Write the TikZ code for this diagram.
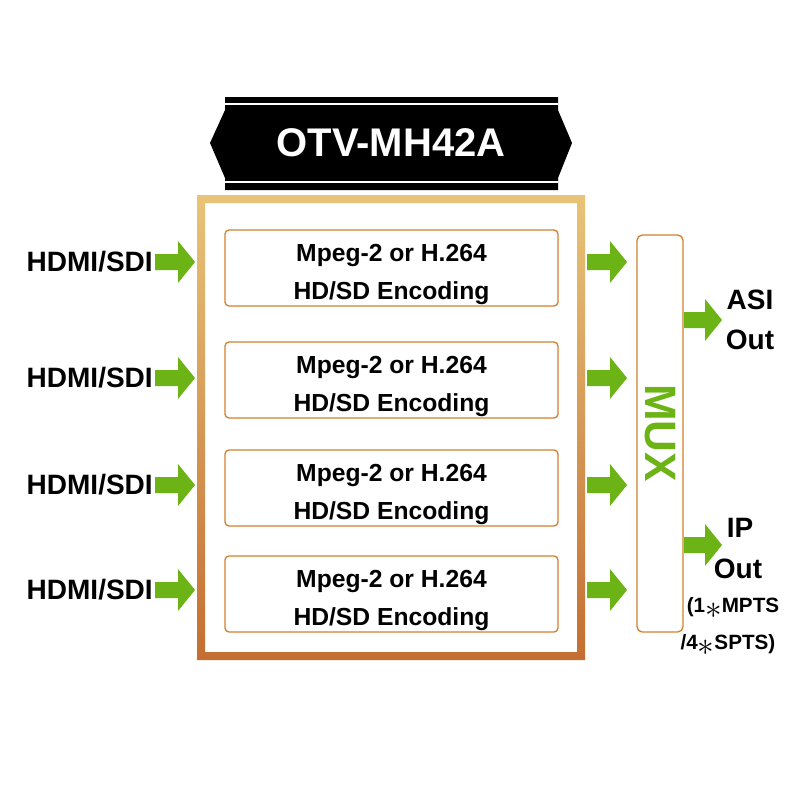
\documentclass[tikz,border=0pt]{standalone}
\usepackage{fontspec}
\setmainfont{Liberation Sans}
\begin{document}
\begin{tikzpicture}[x=0.75pt,y=-0.75pt,
  lbl/.style={font=\fontsize{21}{24}\selectfont\bfseries,inner sep=0pt},
  enc/.style={draw=brown!70!orange,line width=1pt,rounded corners=3pt,minimum width=333*0.75pt,minimum height=76*0.75pt,inner sep=0pt},
  small/.style={font=\fontsize{15.5}{18}\selectfont\bfseries,inner sep=0pt}]
\definecolor{arrowgreen}{RGB}{108,180,22}
\definecolor{gold}{RGB}{232,196,120}
\definecolor{copper}{RGB}{196,110,50}
\useasboundingbox (0,0) rectangle (800,800);
\fill[white] (0,0) rectangle (800,800);
% title banner
\fill[black] (225,97) -- (558,97) -- (558,110) -- (572,143) -- (558,178) -- (558,190) -- (225,190) -- (225,178) -- (210,143) -- (225,110) -- cycle;
\draw[white,line width=1.5pt] (225,104) -- (558,104);
\draw[white,line width=1.5pt] (225,182) -- (558,182);
\node[text=white,font=\fontsize{30}{34}\selectfont\bfseries,inner sep=0pt] (title) at (391,143) {OTV-MH42A};
% frame
\shade[top color=gold,bottom color=copper,even odd rule] (197,195) rectangle (585,660) (205,203) rectangle (577,652);
% encoders
\foreach \i/\y in {1/268,2/380,3/488,4/594}{
  \node[enc] (e\i) at (391.5,\y) {};
  \node[font=\fontsize{18.5}{28.5}\selectfont\bfseries,align=center,inner sep=0pt] (t\i) at (391.5,\y+6) {Mpeg-2 or H.264\\HD/SD Encoding};
}
% mux
\node[draw=brown!70!orange,line width=1pt,rounded corners=4pt,minimum width=46*0.75pt,minimum height=397*0.75pt,inner sep=0pt] (mux) at (660,433.5) {};
\node[rotate=-90,text=arrowgreen,font=\fontsize{33}{36}\selectfont\bfseries,inner sep=0pt] at (660,433) {MUX};
% arrows
\newcommand{\garr}[3]{% x0 y len
  \fill[arrowgreen] (#1,#2-8) -- (#1+#3-17,#2-8) -- (#1+#3-17,#2-21) -- (#1+#3,#2) -- (#1+#3-17,#2+21) -- (#1+#3-17,#2+8) -- (#1,#2+8) -- cycle;}
\foreach \i/\y in {1/262,2/378,3/485,4/590}{
  \node[lbl,anchor=east] (in\i) at (153,\y) {HDMI/SDI};
  \garr{155}{\y}{40}
  \garr{587}{\y}{40}
}
\garr{684}{320}{38}
\garr{684}{545}{38}
\node[lbl] (asi1) at (750,300) {ASI};
\node[lbl] (asi2) at (750,340) {Out};
\node[lbl] (ip1) at (740,528) {IP};
\node[lbl] (ip2) at (738,569) {Out};
\node[small] (m1) at (733,608) {(1\raisebox{-0.5ex}{\fontsize{24}{24}\selectfont$\ast$}MPTS};
\node[small] (m2) at (728,645) {/4\raisebox{-0.5ex}{\fontsize{24}{24}\selectfont$\ast$}SPTS)};
\end{tikzpicture}
\end{document}
